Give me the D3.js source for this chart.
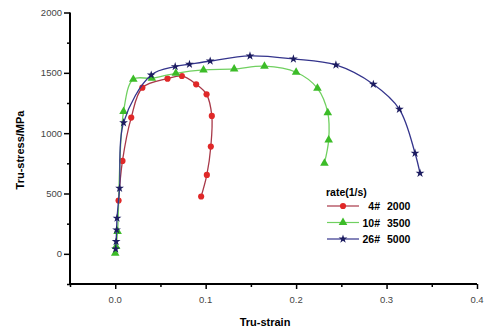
<!DOCTYPE html>
<html><head><meta charset="utf-8">
<script src="https://cdn.jsdelivr.net/npm/d3@7"></script>
<style>body{margin:0;background:#fff}svg{display:block}</style>
</head><body>
<script>
// Data
const xTicks = [0.0, 0.1, 0.2, 0.3, 0.4];
const yTicks = [0, 500, 1000, 1500, 2000];
const seriesNames = ["4#", "10#", "26#"];
const seriesRates = ["2000", "3500", "5000"];
const redStrain  = [0.0037, 0.008, 0.0177, 0.030, 0.0578, 0.0737, 0.0895, 0.101, 0.1068, 0.1057, 0.1013, 0.095];
const redStress  = [441, 770, 1129, 1377, 1452, 1474, 1405, 1322, 1143, 889, 654, 475];
const greenStrain = [0.0, 0.001, 0.0026, 0.0092, 0.020, 0.0405, 0.067, 0.0976, 0.1315, 0.165, 0.200, 0.2236, 0.235, 0.236, 0.2313];
const greenStress = [5, 60, 185, 1179, 1446, 1455, 1496, 1524, 1532, 1555, 1505, 1372, 1170, 944, 751];
const blueStrain = [0.0005, 0.001, 0.0015, 0.002, 0.0048, 0.0092, 0.0398, 0.0663, 0.0821, 0.105, 0.149, 0.197, 0.244, 0.2854, 0.3142, 0.3315, 0.337];
const blueStress = [40, 102, 199, 296, 544, 1087, 1482, 1552, 1571, 1598, 1640, 1615, 1565, 1405, 1198, 834, 668];

const W = 484, H = 334;
const svg = d3.select("body").append("svg").attr("width", W).attr("height", H);
const x = d3.scaleLinear().domain([-0.05, 0.4]).range([70, 477]);
const y = d3.scaleLinear().domain([-250, 2000]).range([284, 12.5]);

const series = [
  {xs: redStrain, ys: redStress, line: "#a83848", fill: "#e02828", sym: d3.symbolCircle, size: 30},
  {xs: greenStrain, ys: greenStress, line: "#70d060", fill: "#3cbc28", sym: d3.symbolTriangle, size: 32},
  {xs: blueStrain, ys: blueStress, line: "#34348c", fill: "#1c1c60", sym: d3.symbolStar, size: 24}
];

const line = d3.line().x(d => x(d[0])).y(d => y(d[1])).curve(d3.curveCatmullRom);
series.forEach(s => {
  const pts = s.xs.map((v, i) => [v, s.ys[i]]);
  svg.append("path").attr("d", line(pts)).attr("fill", "none").attr("stroke", s.line).attr("stroke-width", 1.3);
  svg.selectAll(null).data(pts).enter().append("path")
    .attr("d", d3.symbol().type(s.sym).size(s.size))
    .attr("transform", d => `translate(${x(d[0])},${y(d[1])})`)
    .attr("fill", s.fill);
});

// Axes
const xAxis = d3.axisBottom(x).tickValues(d3.range(-0.05, 0.4001, 0.05)).tickSize(5).tickFormat("");
const gx = svg.append("g").attr("transform", `translate(0,${y(-250)})`).call(xAxis);
gx.select(".domain").attr("stroke-width", 2).attr("d", `M${x(-0.05)},0H${x(0.4)}`);
gx.selectAll(".tick line").attr("stroke-width", 1.5);
gx.selectAll(".tick").filter(d => Math.abs(Math.round(d*10) - d*10) > 0.01).select("line").attr("y2", 3);
svg.selectAll(null).data(xTicks).enter().append("text")
  .attr("x", d => x(d)).attr("y", 303).attr("text-anchor", "middle")
  .attr("font-family", "Liberation Sans, Arial, sans-serif").attr("font-size", 9.5).attr("fill", "#444")
  .text(d => d.toFixed(1));

const yAxis = d3.axisLeft(y).tickValues(d3.range(-250, 2001, 250)).tickSize(6).tickFormat("");
const gy = svg.append("g").attr("transform", `translate(${x(-0.05)},0)`).call(yAxis);
gy.select(".domain").attr("stroke-width", 2).attr("d", `M0,${y(-250)}V${y(2000)}`);
gy.selectAll(".tick line").attr("stroke-width", 1.5);
gy.selectAll(".tick").filter(d => d % 500 !== 0).select("line").attr("x2", -3);
svg.selectAll(null).data(yTicks).enter().append("text")
  .attr("x", 62).attr("y", d => y(d) + 3.5).attr("text-anchor", "end")
  .attr("font-family", "Liberation Sans, Arial, sans-serif").attr("font-size", 9.5).attr("fill", "#444")
  .text(d => d);

// Titles
svg.append("text").attr("x", 265).attr("y", 326).attr("text-anchor", "middle")
  .attr("font-family", "Liberation Sans, Arial, sans-serif").attr("font-weight", "bold").attr("font-size", 11)
  .text("Tru-strain");
svg.append("text").attr("transform", "translate(24,150) rotate(-90)").attr("text-anchor", "middle")
  .attr("font-family", "Liberation Sans, Arial, sans-serif").attr("font-weight", "bold").attr("font-size", 11)
  .text("Tru-stress/MPa");

// Legend
const lg = svg.append("g").attr("font-family", "Liberation Sans, Arial, sans-serif").attr("font-weight", "bold").attr("font-size", 10.5);
lg.append("text").attr("x", 326).attr("y", 196).text("rate(1/s)");
series.forEach((s, i) => {
  const cy = 206 + i * 16.5;
  lg.append("line").attr("x1", 327).attr("x2", 359).attr("y1", cy).attr("y2", cy).attr("stroke", s.line).attr("stroke-width", 1.2);
  lg.append("path").attr("d", d3.symbol().type(s.sym).size(s.size)).attr("transform", `translate(343,${cy})`).attr("fill", s.fill);
  lg.append("text").attr("x", 380).attr("y", cy + 4).attr("text-anchor", "end").text(seriesNames[i]);
  lg.append("text").attr("x", 387).attr("y", cy + 4).text(seriesRates[i]);
});
</script>
</body></html>
